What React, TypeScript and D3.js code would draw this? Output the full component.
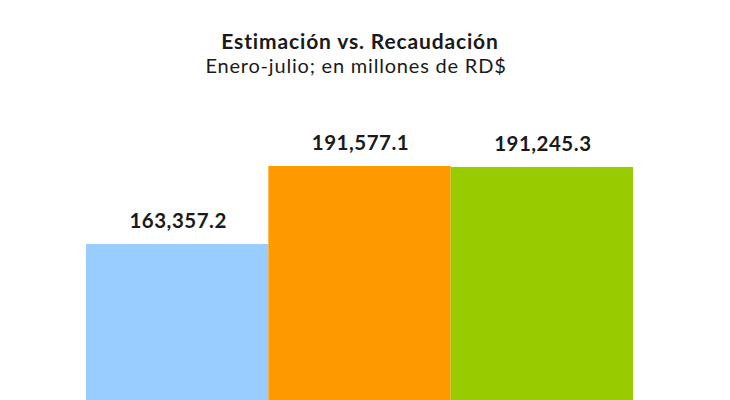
import { useEffect } from "react";
import { scaleBand, scaleLinear } from "d3";

const categories = ["Estimación", "Recaudación", "Recaudación ajustada"];
const values = [163357.2, 191577.1, 191245.3];
const colors = ["#99CCFF", "#FF9900", "#99CC00"];
const title = "Estimación vs. Recaudación";
const subtitle = "Enero-julio; en millones de RD$";

const width = 730;
const height = 400;

const App: React.FC = () => {
  useEffect(() => {
    document.body.style.margin = "0";
  }, []);

  // baseline sits below the visible area (chart is cropped at the bottom)
  const xScale = scaleBand().domain(categories).range([86, 633]).padding(0);
  const yScale = scaleLinear().domain([0, Math.max(...values)]).range([695.5, 166]);
  const fmt = (v: number) =>
    v.toLocaleString("en-US", { minimumFractionDigits: 1, maximumFractionDigits: 1 });

  return (
    <svg width={width} height={height} style={{ display: "block", background: "#fff" }}
      fontFamily="Lato, 'Open Sans', sans-serif">
      <text x={360} y={49} textAnchor="middle" fontSize={21} letterSpacing={0.85} fontWeight={700} fill="#1a1a1a">{title}</text>
      <text x={356} y={73} textAnchor="middle" fontSize={20} letterSpacing={0.8} fill="#1a1a1a">{subtitle}</text>
      {categories.map((c, i) => (
        <g key={c}>
          <rect
            x={xScale(c)}
            y={yScale(values[i])}
            width={xScale.bandwidth()}
            height={yScale(0) - yScale(values[i])}
            fill={colors[i]}
          />
          <text
            x={xScale(c)! + xScale.bandwidth() / 2 + 1}
            y={yScale(values[i]) - 16}
            textAnchor="middle"
            fontSize={20.5}
            letterSpacing={0.5}
            fontWeight={700}
            fill="#1a1a1a"
          >{fmt(values[i])}</text>
        </g>
      ))}
    </svg>
  );
};

export default App;
